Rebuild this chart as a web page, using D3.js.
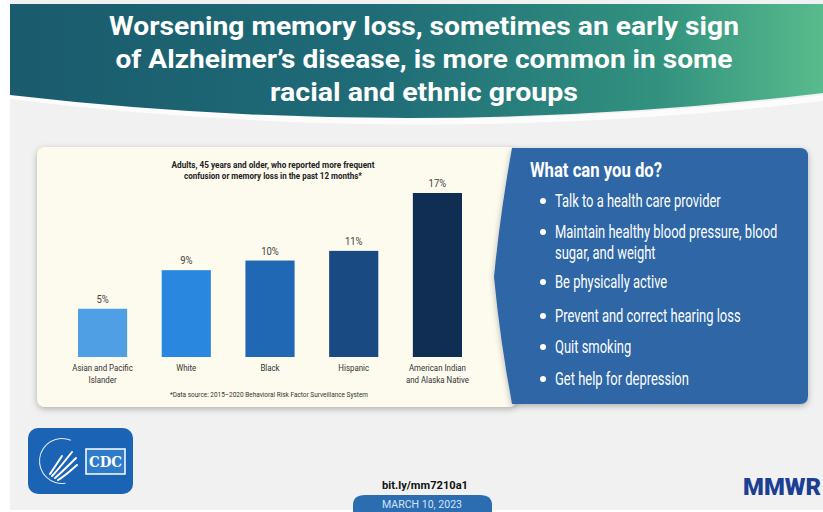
<!DOCTYPE html>
<html>
<head>
<meta charset="utf-8">
<script src="https://cdn.jsdelivr.net/npm/d3@7"></script>
<style>
  html, body { margin: 0; padding: 0; background: #fff; }
  svg { display: block; font-family: Roboto, "Open Sans", sans-serif; }
</style>
</head>
<body>
<svg id="chart" width="823" height="512"></svg>
<script>
// data
const titleLines = ["Worsening memory loss, sometimes an early sign",
                    "of Alzheimer\u2019s disease, is more common in some",
                    "racial and ethnic groups"]
const subtitleLines = ["Adults, 45 years and older, who reported more frequent",
                       "confusion or memory loss in the past 12 months*"]
const categories = ["Asian and Pacific Islander", "White", "Black", "Hispanic", "American Indian and Alaska Native"]
const categoryLabels = [["Asian and Pacific", "Islander"], ["White"], ["Black"], ["Hispanic"], ["American Indian", "and Alaska Native"]]
const values = [5, 9, 10, 11, 17]
const barColors = ["#4f9fe4", "#2a87df", "#2068b3", "#1a4a82", "#102e53"]
const footnote = "*Data source: 2015\u20132020 Behavioral Risk Factor Surveillance System"
const actionTitle = "What can you do?"
const actions = [["Talk to a health care provider"],
                 ["Maintain healthy blood pressure, blood", "sugar, and weight"],
                 ["Be physically active"],
                 ["Prevent and correct hearing loss"],
                 ["Quit smoking"],
                 ["Get help for depression"]]

var svg = d3.select('#chart')

// squeeze text to a width, the poster uses condensed faces
function fit(sel, w) {
  sel.attr('textLength', w).attr('lengthAdjust', 'spacingAndGlyphs')
}
function squeeze(sel, k) {
  sel.each(function() {
    var len = this.getComputedTextLength()
    d3.select(this).attr('textLength', len * k).attr('lengthAdjust', 'spacingAndGlyphs')
  })
}

var defs = svg.append('defs')
var grad = defs.append('linearGradient').attr('id', 'hdr').attr('x1', 0).attr('x2', 1)
grad.append('stop').attr('offset', 0).attr('stop-color', '#1a5b6d')
grad.append('stop').attr('offset', 0.45).attr('stop-color', '#1f6c77')
grad.append('stop').attr('offset', 0.8).attr('stop-color', '#32927f')
grad.append('stop').attr('offset', 1).attr('stop-color', '#58bb8c')
var sh = defs.append('filter').attr('id', 'shadow').attr('x', -0.1).attr('y', -0.1).attr('width', 1.2).attr('height', 1.3)
sh.append('feDropShadow').attr('dx', 0).attr('dy', 2).attr('stdDeviation', 3).attr('flood-color', '#000').attr('flood-opacity', 0.28)

// page background
svg.append('rect').attr('x', 10).attr('y', 0).attr('width', 813).attr('height', 510).attr('fill', '#f1f1f1')

// header arch
svg.append('path')
  .attr('d', 'M10,96 Q416,146 823,98')
  .attr('fill', 'none').attr('stroke', '#ffffff').attr('stroke-width', 6).attr('opacity', 0.8)
svg.append('path')
  .attr('d', 'M10,4 L823,4 L823,93 Q416,142 10,95 Z')
  .attr('fill', 'url(#hdr)')

svg.append('g').selectAll('text')
  .data(titleLines)
  .enter().append('text')
  .attr('x', 424)
  .attr('y', (d, i) => 35 + i * 33)
  .attr('text-anchor', 'middle')
  .attr('fill', '#fff')
  .style('font-size', '25px')
  .style('font-weight', 700)
  .text(d => d)
  .each(function(d, i) { fit(d3.select(this), [630, 617, 308][i]) })

// chart card
svg.append('rect')
  .attr('x', 37).attr('y', 147).attr('width', 480).attr('height', 260).attr('rx', 8)
  .attr('fill', '#fdfaee').attr('filter', 'url(#shadow)')

// action card with chevron on the left
svg.append('path')
  .attr('d', 'M512,148 L800,148 Q808,148 808,156 L808,396 Q808,404 800,404 L512,404 Q500,340 494,277 Q500,214 512,148 Z')
  .attr('fill', '#2d66a6').attr('filter', 'url(#shadow)')

var x = d3.scaleBand().domain(categories).range([78, 462]).paddingInner(0.413).paddingOuter(0)
var y = d3.scaleLinear().domain([0, 17]).range([357, 193])

svg.append('g').selectAll('text')
  .data(subtitleLines)
  .enter().append('text')
  .attr('x', 273)
  .attr('y', (d, i) => 168 + i * 11)
  .attr('text-anchor', 'middle')
  .attr('fill', '#222')
  .style('font-size', '9px')
  .style('font-weight', 700)
  .text(d => d)
  .each(function(d, i) { fit(d3.select(this), [203, 178][i]) })

var bars = svg.append('g').selectAll('g')
  .data(categories)
  .enter().append('g')

bars.append('rect')
  .attr('x', d => x(d))
  .attr('width', x.bandwidth())
  .attr('y', (d, i) => y(values[i]))
  .attr('height', (d, i) => y(0) - y(values[i]))
  .attr('fill', (d, i) => barColors[i])

bars.append('text')
  .attr('x', d => x(d) + x.bandwidth() / 2)
  .attr('y', (d, i) => y(values[i]) - 6)
  .attr('text-anchor', 'middle')
  .attr('fill', '#444')
  .style('font-size', '10px')
  .text((d, i) => values[i] + '%')
  .call(squeeze, 0.95)

bars.each(function(d, i) {
  d3.select(this).selectAll('text.cat')
    .data(categoryLabels[i])
    .enter().append('text')
    .attr('class', 'cat')
    .attr('x', x(d) + x.bandwidth() / 2)
    .attr('y', (t, j) => 371 + j * 12)
    .attr('text-anchor', 'middle')
    .attr('fill', '#333')
    .style('font-size', '9.5px')
    .text(t => t)
    .call(squeeze, 0.83)
})

svg.append('text')
  .attr('x', 269).attr('y', 397)
  .attr('text-anchor', 'middle')
  .attr('fill', '#333')
  .style('font-size', '6.5px')
  .text(footnote)
  .call(fit, 198)

// what can you do
svg.append('text')
  .attr('x', 530).attr('y', 177)
  .attr('fill', '#fff')
  .style('font-size', '20px')
  .style('font-weight', 700)
  .text(actionTitle)
  .call(fit, 132)

var actionY = [207, 238, 288, 322, 353, 385]
var items = svg.append('g').selectAll('g')
  .data(actions)
  .enter().append('g')
  .attr('transform', (d, i) => `translate(0,${actionY[i]})`)

items.append('circle')
  .attr('cx', 543).attr('cy', -6).attr('r', 3)
  .attr('fill', '#fff')

// condensed by a horizontal scale so the box stays inside the card
items.selectAll('text')
  .data(d => d)
  .enter().append('text')
  .attr('transform', (t, j) => `translate(555,${j * 21}) scale(0.72,1)`)
  .attr('fill', '#fff')
  .style('font-size', '18px')
  .text(t => t)

// footer: CDC badge
var logo = svg.append('g')
logo.append('rect')
  .attr('x', 28).attr('y', 428).attr('width', 105).attr('height', 66).attr('rx', 10)
  .attr('fill', '#1b63b4')
logo.append('path')
  .attr('d', d3.arc()({ innerRadius: 22, outerRadius: 23, startAngle: -3.3, endAngle: 0.4 }))
  .attr('transform', 'translate(62,461)')
  .attr('fill', '#fff').attr('opacity', 0.85)
logo.append('path')
  .attr('d', 'M52,476 C58,470 64,462 72,452 M55,478 C62,472 68,466 76,458 M58,480 C65,476 70,471 77,465 M50,474 C54,468 58,462 62,456')
  .attr('fill', 'none').attr('stroke', '#fff').attr('stroke-width', 2).attr('stroke-linecap', 'round')
logo.append('rect')
  .attr('x', 86).attr('y', 449).attr('width', 39).attr('height', 25)
  .attr('fill', '#2f7bcb').attr('stroke', '#fff').attr('stroke-width', 1.5)
logo.append('text')
  .attr('x', 105.5).attr('y', 467)
  .attr('text-anchor', 'middle')
  .attr('fill', '#fff')
  .style('font-family', '"DejaVu Serif", serif')
  .style('font-size', '14px')
  .style('font-weight', 700)
  .text('CDC')
  .call(fit, 33)

svg.append('text')
  .attr('x', 425).attr('y', 489)
  .attr('text-anchor', 'middle')
  .attr('fill', '#111')
  .style('font-size', '11px')
  .style('font-weight', 700)
  .text('bit.ly/mm7210a1')
  .call(fit, 86)

svg.append('path')
  .attr('d', 'M353,512 L353,505 Q353,495 365,495 L480,495 Q492,495 492,505 L492,512 Z')
  .attr('fill', '#2c6db2')
svg.append('text')
  .attr('x', 422).attr('y', 508)
  .attr('text-anchor', 'middle')
  .attr('fill', '#d4e3f6')
  .style('font-size', '10px')
  .text('MARCH 10, 2023')
  .call(fit, 80)

svg.append('text')
  .attr('x', 743).attr('y', 495)
  .attr('fill', '#1c3f94')
  .style('font-size', '24px')
  .style('font-weight', 900)
  .text('MMWR')
  .call(fit, 78)
</script>
</body>
</html>
